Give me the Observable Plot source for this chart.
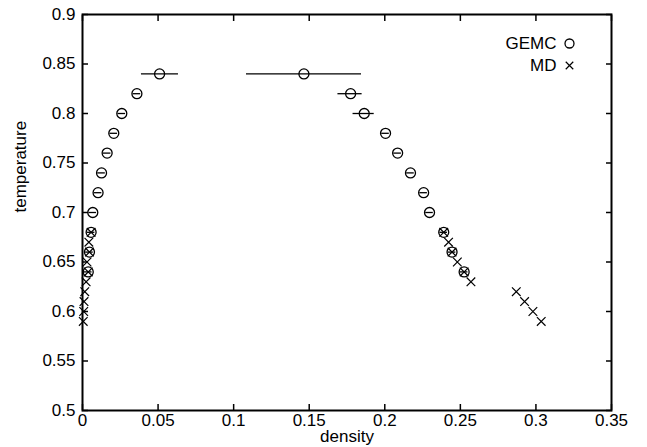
<!DOCTYPE html>
<html>
<head>
<meta charset="utf-8">
<script src="https://cdn.jsdelivr.net/npm/d3@7"></script>
<script src="https://cdn.jsdelivr.net/npm/@observablehq/plot@0.6"></script>
<style>
  html, body { margin: 0; padding: 0; background: #fff; }
  #chart { width: 647px; height: 447px; }
  svg { font-family: "Liberation Sans", Arial, sans-serif; }
</style>
</head>
<body>
<div id="chart"></div>
<script>
// ---- data ----
const gemcT        = [0.84, 0.82, 0.80, 0.78, 0.76, 0.74, 0.72, 0.70, 0.68, 0.66, 0.64];
const gemcVapor    = [0.051, 0.036, 0.026, 0.0207, 0.0163, 0.0126, 0.0103, 0.0068, 0.0057, 0.0046, 0.0038];
const gemcVaporLo  = [0.039, 0.0335, 0.0235, 0.0182, 0.0138, 0.0101, 0.0078, 0.0043, 0.0032, 0.0021, 0.0013];
const gemcVaporHi  = [0.0635, 0.0385, 0.0285, 0.0232, 0.0188, 0.0151, 0.0128, 0.0093, 0.0082, 0.0071, 0.0063];
const gemcLiquid   = [0.1465, 0.1774, 0.1864, 0.2005, 0.2085, 0.217, 0.2257, 0.2296, 0.239, 0.2445, 0.2525];
const gemcLiquidLo = [0.1085, 0.169, 0.179, 0.198, 0.206, 0.2145, 0.2232, 0.2271, 0.2365, 0.242, 0.25];
const gemcLiquidHi = [0.1846, 0.185, 0.193, 0.203, 0.211, 0.2195, 0.2282, 0.2321, 0.2415, 0.247, 0.255];

const mdT      = [0.68, 0.67, 0.66, 0.65, 0.64, 0.63, 0.62, 0.61, 0.60, 0.59];
const mdVapor  = [0.0057, 0.0042, 0.0046, 0.003, 0.0038, 0.0024, 0.0015, 0.001, 0.0008, 0.0005];
const mdLiquid = [0.239, 0.2422, 0.2445, 0.248, 0.2525, 0.257, 0.287, 0.2925, 0.298, 0.3035];

const xTicks = [0, 0.05, 0.1, 0.15, 0.2, 0.25, 0.3, 0.35];
const yTicks = [0.5, 0.55, 0.6, 0.65, 0.7, 0.75, 0.8, 0.85, 0.9];
const legendLabels = ["GEMC", "MD"];

// ---- tables built from the arrays ----
const gemc = [];
gemcT.forEach((t, i) => {
  gemc.push({T: t, x: gemcVapor[i], lo: gemcVaporLo[i], hi: gemcVaporHi[i]});
  gemc.push({T: t, x: gemcLiquid[i], lo: gemcLiquidLo[i], hi: gemcLiquidHi[i]});
});
const md = [];
mdT.forEach((t, i) => {
  md.push({T: t, x: mdVapor[i]});
  md.push({T: t, x: mdLiquid[i]});
});

const fmt = d => String(+d.toFixed(2));
const font = 17;

const chart = Plot.plot({
  width: 647,
  height: 447,
  marginLeft: 82,
  marginRight: 36,
  marginTop: 14,
  marginBottom: 37,
  style: {fontFamily: "'Liberation Sans', Arial, sans-serif", fontSize: font + "px", color: "#000", background: "#fff"},
  x: {domain: [0, 0.35]},
  y: {domain: [0.5, 0.9]},
  marks: [
    // tick labels
    Plot.axisX(xTicks, {anchor: "bottom", tickSize: 0, tickPadding: 3, tickFormat: fmt, label: null, fontSize: font}),
    Plot.axisY(yTicks, {anchor: "left", tickSize: 0, tickPadding: 7, tickFormat: fmt, label: null, fontSize: font}),
    // inward ticks (mirrored)
    Plot.axisX(xTicks, {anchor: "bottom", tickSize: -6, text: null, label: null, strokeWidth: 1.5}),
    Plot.axisX(xTicks, {anchor: "top", tickSize: -6, text: null, label: null, strokeWidth: 1.5}),
    Plot.axisY(yTicks, {anchor: "left", tickSize: -6, text: null, label: null, strokeWidth: 1.5}),
    Plot.axisY(yTicks, {anchor: "right", tickSize: -6, text: null, label: null, strokeWidth: 1.5}),
    Plot.frame({stroke: "#000", strokeWidth: 2}),
    // axis titles
    Plot.text(["density"], {frameAnchor: "bottom", lineAnchor: "middle", dy: 26, text: d => d, fontSize: font, fill: "#000"}),
    Plot.text(["temperature"], {frameAnchor: "left", dx: -62, rotate: -90, text: d => d, fontSize: font, fill: "#000"}),
    // GEMC error bars and circles
    Plot.ruleY(gemc, {y: "T", x1: "lo", x2: "hi", stroke: "#000", strokeWidth: 1.3}),
    Plot.dot(gemc, {x: "x", y: "T", r: 5, symbol: "circle", stroke: "#000", fill: "none", strokeWidth: 1.3}),
    // MD crosses
    Plot.dot(md, {x: "x", y: "T", r: 4, symbol: "times", stroke: "#000", strokeWidth: 1.2}),
    // legend
    Plot.text(legendLabels.slice(0, 1), {frameAnchor: "top-right", lineAnchor: "middle", dx: -55, dy: 29, text: d => d, textAnchor: "end", fontSize: font, fill: "#000"}),
    Plot.text(legendLabels.slice(1, 2), {frameAnchor: "top-right", lineAnchor: "middle", dx: -55, dy: 51, text: d => d, textAnchor: "end", fontSize: font, fill: "#000"}),
    Plot.dot(legendLabels.slice(0, 1), {frameAnchor: "top-right", dx: -42, dy: 29, r: 4.5, symbol: "circle", stroke: "#000", fill: "none", strokeWidth: 1.3}),
    Plot.dot(legendLabels.slice(1, 2), {frameAnchor: "top-right", dx: -42, dy: 51, r: 3.5, symbol: "times", stroke: "#000", strokeWidth: 1.2})
  ]
});
document.getElementById("chart").appendChild(chart);
</script>
</body>
</html>
